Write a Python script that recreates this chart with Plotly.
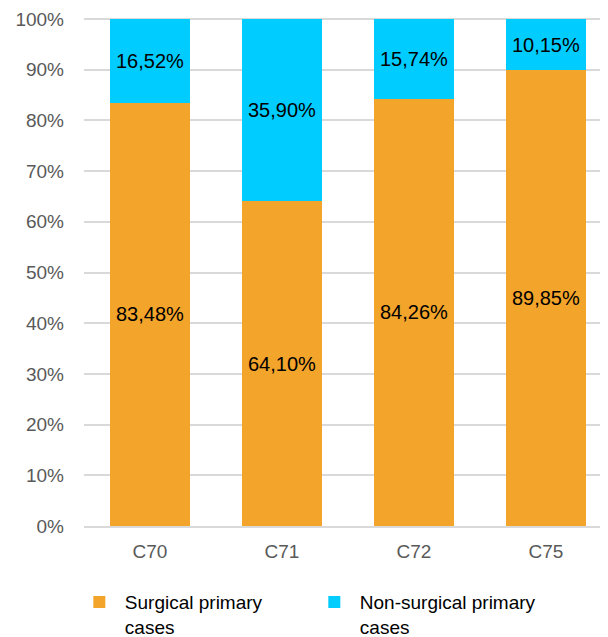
import plotly.graph_objects as go

categories = ["C70", "C71", "C72", "C75"]
surgical = [83.48, 64.10, 84.26, 89.85]
non_surgical = [16.52, 35.90, 15.74, 10.15]
series_names = ["Surgical primary<br>cases", "Non-surgical primary<br>cases"]
y_ticks = [0, 10, 20, 30, 40, 50, 60, 70, 80, 90, 100]
y_tick_labels = [f"{v}%" for v in y_ticks]

FONT = "Liberation Sans, Arial, sans-serif"
fig = go.Figure()
for vals, name, color in [(surgical, series_names[0], "#F3A42B"),
                          (non_surgical, series_names[1], "#00CCFF")]:
    fig.add_trace(go.Bar(
        x=categories, y=vals, name=name, marker=dict(color=color, line=dict(width=0)),
        width=0.606, texttemplate="%{y:.2f}%", textposition="inside",
        insidetextanchor="middle", textangle=0,
        insidetextfont=dict(family=FONT, size=20, color="#000000"),
        hoverinfo="skip",
    ))

fig.update_layout(
    barmode="stack", separators=",.",
    width=600, height=629,
    margin=dict(l=76, r=0, t=10, b=111, autoexpand=False),
    paper_bgcolor="white", plot_bgcolor="white",
    font=dict(family=FONT, size=19, color="#595959"),
    showlegend=True,
    legend=dict(orientation="h", xref="container", yref="container",
                x=0.1097, y=0.0858, xanchor="left", yanchor="top",
                font=dict(family=FONT, size=19, color="#000000"),
                itemwidth=41, entrywidth=179, valign="top", traceorder="normal"),
    xaxis=dict(range=[-0.5, 3.47], showgrid=False, showline=True, linecolor="#D9D9D9",
               linewidth=2, ticks="", ticklabelstandoff=7, automargin=False,
               tickfont=dict(family=FONT, size=19, color="#595959")),
    yaxis=dict(range=[0, 100.2], tickvals=y_ticks, ticktext=y_tick_labels, showgrid=True,
               gridcolor="#D9D9D9", gridwidth=2, zeroline=False, showline=False,
               ticks="", ticklabelstandoff=19, automargin=False, ticklabeloverflow="allow",
               tickfont=dict(family=FONT, size=19, color="#595959")),
)
fig.write_html("out.html")
